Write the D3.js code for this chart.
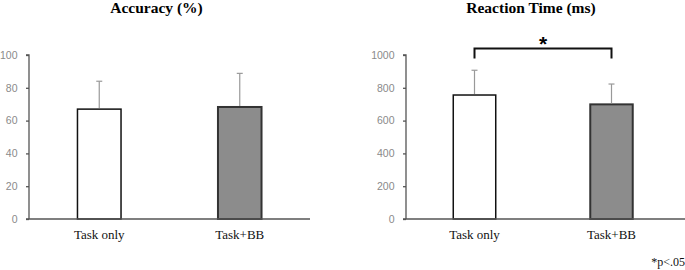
<!DOCTYPE html>
<html>
<head>
<meta charset="utf-8">
<script src="https://cdn.jsdelivr.net/npm/d3@7"></script>
<style>
  body { margin: 0; background: #fff; }
  svg { display: block; }
</style>
</head>
<body>
<svg id="chart" width="685" height="270"></svg>
<script>
// data
const groups = ["Task only", "Task+BB"];
const accMean = [67, 68.3];
const accErr = [17, 20.5];
const rtMean = [756, 699];
const rtErr = [151, 124];
const accTicks = [0, 20, 40, 60, 80, 100];
const rtTicks = [0, 200, 400, 600, 800, 1000];
const barFills = ["#ffffff", "#8c8c8c"];
const barStrokes = ["#111111", "#333333"];

const svg = d3.select("svg#chart");

function drawPanel(opts) {
    const g = svg.append("g").attr("class", "panel");

    const x = d3.scaleBand().domain(groups)
                .range([opts.x0, opts.x1])
                .paddingInner(0.69).paddingOuter(0.345);
    const y = d3.scaleLinear().domain([0, opts.max]).range([219, 55]);

    // y axis
    const yAxis = d3.axisLeft(y).tickValues(opts.ticks).tickFormat(d3.format("d"))
                    .tickSize(3).tickPadding(8.5);
    const ya = g.append("g")
                .attr("transform", "translate(" + opts.x0 + ",0)")
                .call(yAxis);
    ya.select(".domain").attr("stroke", "#555").attr("stroke-width", 1.3)
      .attr("d", "M-3," + y(opts.max) + "H0V" + y(0));
    ya.selectAll(".tick line").attr("stroke", "#555").attr("stroke-width", 1.3);
    ya.selectAll(".tick text")
      .attr("fill", "#8a8a8a")
      .attr("font-family", "Liberation Sans, Arial, sans-serif")
      .attr("font-size", 10.5);

    // bars
    g.selectAll("rect.bar")
     .data(opts.means)
     .join("rect")
     .attr("class", "bar")
     .attr("x", (d, i) => x(groups[i]))
     .attr("y", d => y(d))
     .attr("width", x.bandwidth())
     .attr("height", d => y(0) - y(d))
     .attr("fill", (d, i) => barFills[i])
     .attr("stroke", (d, i) => barStrokes[i])
     .attr("stroke-width", (d, i) => i == 0 ? 1.5 : 2);

    // error bars
    const eb = g.selectAll("g.err")
                .data(opts.means)
                .join("g")
                .attr("class", "err");
    eb.append("line")
      .attr("x1", (d, i) => x(groups[i]) + x.bandwidth() / 2)
      .attr("x2", (d, i) => x(groups[i]) + x.bandwidth() / 2)
      .attr("y1", d => y(d) - 1)
      .attr("y2", (d, i) => y(d + opts.errs[i]))
      .attr("stroke", "#999").attr("stroke-width", 1.2);
    eb.append("line")
      .attr("x1", (d, i) => x(groups[i]) + x.bandwidth() / 2 - 3)
      .attr("x2", (d, i) => x(groups[i]) + x.bandwidth() / 2 + 3)
      .attr("y1", (d, i) => y(d + opts.errs[i]))
      .attr("y2", (d, i) => y(d + opts.errs[i]))
      .attr("stroke", "#999").attr("stroke-width", 1.2);

    // x axis line
    g.append("line")
     .attr("x1", opts.x0 - 3).attr("x2", opts.lineEnd)
     .attr("y1", y(0)).attr("y2", y(0))
     .attr("stroke", "#555").attr("stroke-width", 1.3);

    // category labels
    g.selectAll("text.cat")
     .data(groups)
     .join("text")
     .attr("class", "cat")
     .attr("x", d => x(d) + x.bandwidth() / 2)
     .attr("y", 239)
     .attr("text-anchor", "middle")
     .attr("font-family", "Liberation Serif, Times New Roman, serif")
     .attr("font-size", 13)
     .attr("fill", "#111")
     .text(d => d);

    // title
    g.append("text")
     .attr("x", opts.titleX).attr("y", 12.5)
     .attr("text-anchor", "middle")
     .attr("font-family", "Liberation Serif, Times New Roman, serif")
     .attr("font-weight", "bold")
     .attr("font-size", 15.5)
     .attr("fill", "#000")
     .text(opts.title);

    return { x: x, y: y, g: g };
}

drawPanel({ x0: 29, x1: 310, lineEnd: 310, max: 100, ticks: accTicks,
            means: accMean, errs: accErr, title: "Accuracy (%)", titleX: 156.5 });

const rt = drawPanel({ x0: 406, x1: 680, lineEnd: 685, max: 1000, ticks: rtTicks,
            means: rtMean, errs: rtErr, title: "Reaction Time (ms)", titleX: 531 });

// significance bracket
const bx1 = rt.x(groups[0]) + rt.x.bandwidth() / 2;
const bx2 = rt.x(groups[1]) + rt.x.bandwidth() / 2;
rt.g.append("path")
    .attr("d", "M" + bx1 + ",58.5V48.5H" + bx2 + "V58.5")
    .attr("fill", "none").attr("stroke", "#111").attr("stroke-width", 2);
rt.g.append("text")
    .attr("x", (bx1 + bx2) / 2).attr("y", 51)
    .attr("text-anchor", "middle")
    .attr("font-family", "Liberation Sans, Arial, sans-serif")
    .attr("font-weight", "bold")
    .attr("font-size", 21)
    .text("*");

svg.append("text")
   .attr("x", 685).attr("y", 266)
   .attr("text-anchor", "end")
   .attr("font-family", "Liberation Serif, Times New Roman, serif")
   .attr("font-size", 12)
   .attr("fill", "#111")
   .text("*p<.05");
</script>
</body>
</html>
